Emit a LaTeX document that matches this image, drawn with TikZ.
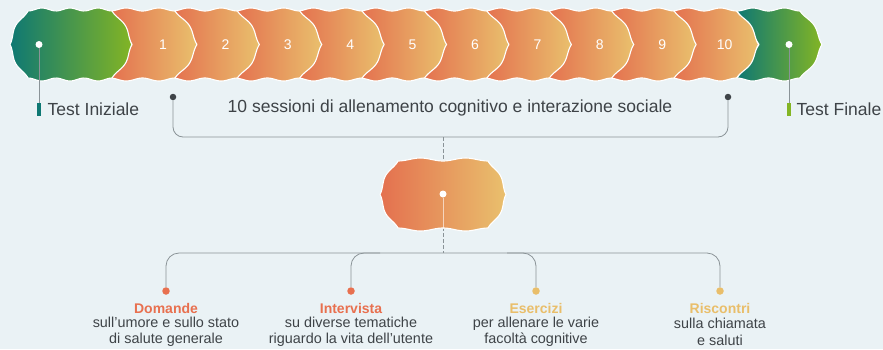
\documentclass[tikz,border=0pt]{standalone}
\usepackage{fontspec}
\setmainfont{Liberation Sans}
\definecolor{bgc}{HTML}{EAF2F5}
\definecolor{orA}{HTML}{E4704F}
\definecolor{orB}{HTML}{E9C06D}
\definecolor{grA}{HTML}{0E7873}
\definecolor{grB}{HTML}{83B524}
\definecolor{txt}{HTML}{3E4347}
\definecolor{lnc}{HTML}{8A9397}
\definecolor{dotc}{HTML}{3F4448}
\definecolor{titO}{HTML}{E8704F}
\definecolor{titY}{HTML}{E9BE6A}
\def\wa{3}
\def\wb{4}
\tikzset{
 wv/.style={variable=\t, domain=0:1, samples=30, smooth},
 outl/.style={draw=white, line width=1.1pt, line join=round},
 orshape/.style={outl, left color=orA, right color=orB},
 grshape/.style={outl, left color=grA, right color=grB},
 num/.style={text=white, font=\fontsize{14}{16}\selectfont, inner sep=0pt},
 wdot/.style={circle, fill=white, inner sep=0pt, minimum size=7pt},
 ddot/.style={circle, fill=dotc, inner sep=0pt, minimum size=6.5pt},
 bdot/.style={circle, inner sep=0pt, minimum size=7.5pt},
 conn/.style={draw=lnc, line width=0.8pt},
 bar/.style={inner sep=0pt, minimum width=4pt, minimum height=13pt},
 lbl/.style={text=txt, font=\fontsize{17.5}{21}\selectfont, inner sep=0pt},
 ttl/.style={font=\fontsize{14}{16}\selectfont\bfseries, inner sep=0pt},
 desc/.style={text=txt, font=\fontsize{14.4}{16.5}\selectfont, align=center, inner sep=0pt},
}
\begin{document}
\begin{tikzpicture}[x=1pt,y=-1pt]
\fill[bgc] (0,0) rectangle (883,349);
\useasboundingbox (0,0) rectangle (883,349);

% last green shape (under shape 10)
\shadedraw[grshape]
  plot[wv] ({737+63*\t},{11-\wa*(1-cos(720*\t))/2})
  -- plot[wv] ({800+22*\t+\wb*0.836*(1-cos(360*\t))/2},{11+33.5*\t-\wb*0.549*(1-cos(360*\t))/2})
  -- plot[wv] ({822-22*\t+\wb*0.836*(1-cos(360*\t))/2},{44.5+33.5*\t+\wb*0.549*(1-cos(360*\t))/2})
  -- plot[wv] ({800-63*\t},{78+\wa*(1-cos(720*\t))/2})
  -- (759,44.5) -- cycle;
% orange sessions
\foreach \k in {10,9,...,1}{
  \pgfmathsetmacro\T{197+62.4*(\k-1)}
  \shadedraw[orshape]
    plot[wv] ({\T-87+65*\t},{11-\wa*(1-cos(720*\t))/2})
    -- plot[wv] ({\T-22+22*\t+\wb*0.836*(1-cos(360*\t))/2},{11+33.5*\t-\wb*0.549*(1-cos(360*\t))/2})
    -- plot[wv] ({\T-22*\t+\wb*0.836*(1-cos(360*\t))/2},{44.5+33.5*\t+\wb*0.549*(1-cos(360*\t))/2})
    -- plot[wv] ({\T-22-65*\t},{78+\wa*(1-cos(720*\t))/2})
    -- (\T-65,44.5) -- cycle;
  \node[num] (n\k) at (\T-34,44.5) {\k};
}
% first green shape
\shadedraw[grshape]
  plot[wv] ({28+84*\t},{11-\wa*(1-cos(1080*\t))/2})
  -- plot[wv] ({112+20*\t+\wb*0.859*(1-cos(360*\t))/2},{11+33.5*\t-\wb*0.513*(1-cos(360*\t))/2})
  -- plot[wv] ({132-20*\t+\wb*0.859*(1-cos(360*\t))/2},{44.5+33.5*\t+\wb*0.513*(1-cos(360*\t))/2})
  -- plot[wv] ({112-84*\t},{78+\wa*(1-cos(1080*\t))/2})
  -- plot[wv] ({28-18*\t-\wb*0.881*(1-cos(360*\t))/2},{78-33.5*\t+\wb*0.473*(1-cos(360*\t))/2})
  -- plot[wv] ({10+18*\t-\wb*0.881*(1-cos(360*\t))/2},{44.5-33.5*\t-\wb*0.473*(1-cos(360*\t))/2})
  -- cycle;

% test labels
\node[wdot] (gA) at (39,44.5) {};
\node[wdot] (gB) at (789,44.5) {};
\node[bar, fill=grA] (barA) at (39,109.5) {};
\node[bar, fill=grB] (barB) at (789,109.5) {};
\draw[conn] (gA) -- (barA.north);
\draw[conn] (gB) -- (barB.north);
\node[lbl, anchor=west] (tA) at (47.5,109.5) {Test Iniziale};
\node[lbl, anchor=west] (tB) at (796.5,109.5) {Test Finale};

% bracket
\node[ddot] (bl) at (173,97) {};
\node[ddot] (br) at (728,97) {};
\draw[conn, rounded corners=10pt] (bl) -- (173,137) -- (728,137) -- (br);
\node[lbl] (sess) at (450,108) {10 sessioni di allenamento cognitivo e interazione sociale};

% central stem and shape
\coordinate (bm) at (443,137);
\coordinate (hm) at (443,253);
\draw[conn, dashed, dash pattern=on 4pt off 2pt] (bm) -- (hm);
\shadedraw[orshape]
  plot[wv] ({398+90*\t},{161-\wa*(1-cos(720*\t))/2})
  -- plot[wv] ({488+18*\t+\wb*0.881*(1-cos(360*\t))/2},{161+33.5*\t-\wb*0.473*(1-cos(360*\t))/2})
  -- plot[wv] ({506-18*\t+\wb*0.881*(1-cos(360*\t))/2},{194.5+33.5*\t+\wb*0.473*(1-cos(360*\t))/2})
  -- plot[wv] ({488-90*\t},{228+\wa*(1-cos(720*\t))/2})
  -- plot[wv] ({398-18*\t-\wb*0.881*(1-cos(360*\t))/2},{228-33.5*\t+\wb*0.473*(1-cos(360*\t))/2})
  -- plot[wv] ({380+18*\t-\wb*0.881*(1-cos(360*\t))/2},{194.5-33.5*\t-\wb*0.473*(1-cos(360*\t))/2})
  -- cycle;
\node[wdot] (cdot) at (443,194) {};
\coordinate (cbot) at (443,229);
\draw[white, opacity=0.6, line width=0.8pt] (cdot) -- (cbot);

% bottom branches
\node[bdot, fill=titO] (d1) at (166,291) {};
\node[bdot, fill=titO] (d2) at (351,291) {};
\node[bdot, fill=titY] (d3) at (536,291) {};
\node[bdot, fill=titY] (d4) at (720,291) {};
\draw[conn, rounded corners=13pt] (d1) -- (166,253) -- (720,253) -- (d4);
\coordinate (j2) at (380,253);
\coordinate (j3) at (507,253);
\draw[conn, rounded corners=13pt] (j2) -- (351,253) -- (d2);
\draw[conn, rounded corners=13pt] (j3) -- (536,253) -- (d3);

\node[ttl, text=titO] (h1) at (166,308) {Domande};
\node[ttl, text=titO] (h2) at (351,308) {Intervista};
\node[ttl, text=titY] (h3) at (536,308) {Esercizi};
\node[ttl, text=titY] (h4) at (720,308) {Riscontri};
\node[desc] (x1) at (166,332) {sull’umore e sullo stato\\di salute generale};
\node[desc] (x2) at (351,332) {su diverse tematiche\\riguardo la vita dell’utente};
\node[desc] (x3) at (536,332) {per allenare le varie\\facoltà cognitive};
\node[desc] (x4) at (720,332) {sulla chiamata\\e saluti};
\end{tikzpicture}
\end{document}
